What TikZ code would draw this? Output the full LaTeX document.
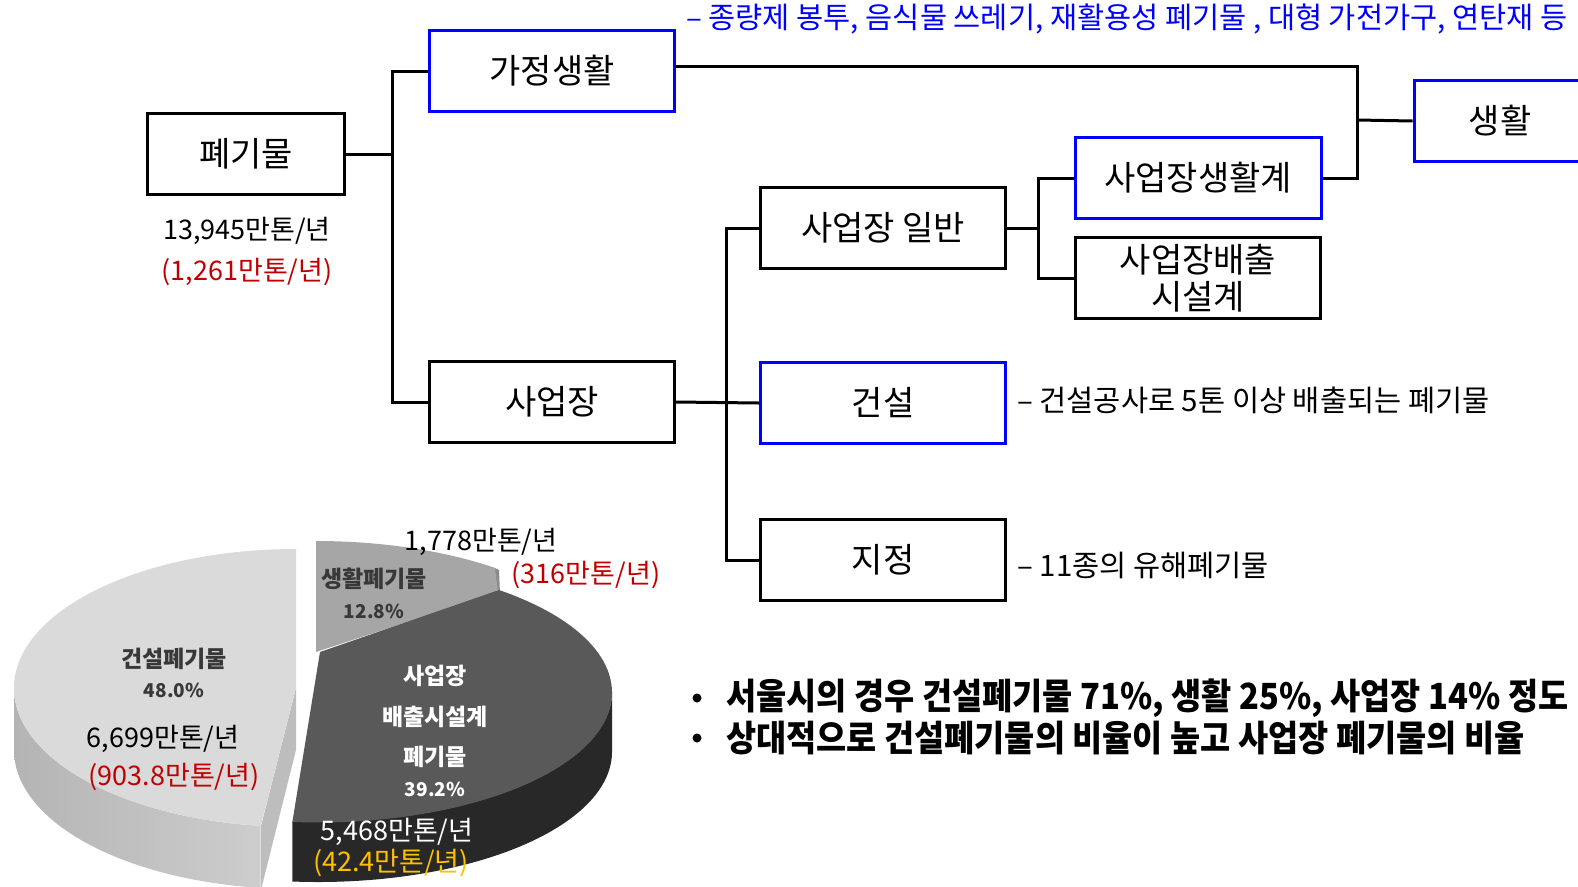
\documentclass[tikz,border=0pt]{standalone}
\usepackage{fontspec}
\setmainfont{Noto Sans CJK KR}
\newfontfamily\condfont[FakeStretch=0.91]{Noto Sans CJK KR}
\definecolor{pblue}{HTML}{0000FF}
\definecolor{pred}{HTML}{C00000}
\definecolor{porange}{HTML}{FFC000}
\definecolor{lighttop}{HTML}{DADADA}
\definecolor{lightwallA}{HTML}{B4B4B4}
\definecolor{lightwallB}{HTML}{CDCDCD}
\definecolor{lightcut}{HTML}{BDBDBD}
\definecolor{midtop}{HTML}{A6A6A6}
\definecolor{midcut}{HTML}{8A8A8A}
\definecolor{darktop}{HTML}{595959}
\definecolor{darkwall}{HTML}{282828}
\definecolor{labgray}{HTML}{383838}
\begin{document}
\begin{tikzpicture}[x=1pt,y=-1pt,
  box/.style={draw=black,line width=3pt,minimum width=245pt,minimum height=81pt,inner sep=0pt,font=\fontsize{34}{41}\selectfont,align=center},
  bluebox/.style={box,draw=pblue},
  conn/.style={line width=3pt},
  amount/.style={font=\fontsize{27}{30}\selectfont,inner sep=0pt},
  desc/.style={font=\fontsize{29.5}{32}\selectfont,inner sep=0pt,anchor=west},
  catlab/.style={font=\fontsize{23}{26}\selectfont\bfseries,inner sep=0pt},
  pctlab/.style={font=\fontsize{19}{22}\selectfont\bfseries,inner sep=0pt},
  bulletdot/.style={fill=black,circle,inner sep=0pt,minimum size=9pt},
  bullettext/.style={font=\fontsize{36}{40}\selectfont\condfont\bfseries,inner sep=0pt,anchor=west}]
\useasboundingbox (0,0) rectangle (1578,886);
\clip (0,0) rectangle (1578,886);

% ---------- tree ----------
\node[box,minimum width=197pt] (pk) at (246,154) {폐기물};
\node[bluebox] (ga) at (552,71) {가정생활};
\node[box] (sa) at (552,402) {사업장};
\node[box] (il) at (883,228) {사업장 일반};
\node[bluebox] (gs) at (883,403) {건설};
\node[box] (jj) at (883,560) {지정};
\node[bluebox,minimum width=246pt] (sg) at (1198,178) {사업장생활계};
\node[box] (bc) at (1198,278) {사업장배출\\[-4pt]시설계};
\node[bluebox,minimum width=220pt] (life) at (1524,121) {생활\hspace*{48pt}};

\coordinate (j1) at (392,154);
\coordinate (j2) at (726,402);
\coordinate (j4) at (1038,228);
\coordinate (j3) at (1357,120);

\draw[conn] (pk.east) -- (j1);
\draw[conn] (ga.west) -| (j1) |- (sa.west);
\draw[conn] (sa.east) -- (gs.west);
\draw[conn] (il.west) -| (j2) |- (jj.west);
\draw[conn] (il.east) -- (j4);
\draw[conn] (sg.west) -| (j4) |- (bc.west);
\draw[conn] ([yshift=5pt]ga.east) -| (j3) |- (sg.east);
\draw[conn] (j3) -- (life.west);

\node[amount] (tot) at (247,231) {13,945만톤/년};
\node[amount,text=pred] (totr) at (247,272) {(1,261만톤/년)};

\node[desc,text=pblue] (d1) at (686,19) {– 종량제 봉투, 음식물 쓰레기, 재활용성 폐기물 , 대형 가전가구, 연탄재 등};
\node[desc] (d2) at (1017,400) {– 건설공사로 5톤 이상 배출되는 폐기물};
\node[desc] (d3) at (1017,565) {– 11종의 유해폐기물};

% ---------- pie ----------
% light slice (construction)
\shade[left color=lightwallA,right color=lightwallB]
  (14,688) arc[start angle=-180,end angle=-262.8,x radius=282,y radius=139]
  -- ++(0,62) arc[start angle=-262.8,end angle=-180,x radius=282,y radius=139] -- cycle;
\fill[lightcut] (296,688) -- (261,826) -- (261,890) -- (296,750) -- cycle;
\fill[lighttop] (296,688) -- (296,549)
  arc[start angle=-90,end angle=-262.8,x radius=282,y radius=139] -- cycle;
% mid slice (household)
\fill[midcut] (495,568) -- (499,570) -- (500,594) -- (496,592) -- cycle;
\fill[midtop] (316,652) -- (316,541)
  arc[start angle=-90,end angle=-52.5,x radius=294,y radius=130] -- (498,592) -- cycle;
% dark slice (business facilities)
\fill[darkwall] (612,692) arc[start angle=0,end angle=95,x radius=294,y radius=130]
  -- ++(0,60) arc[start angle=95,end angle=0,x radius=294,y radius=130] -- cycle;
\fill[darktop] (320,652) -- (499,590)
  arc[start angle=-52,end angle=95,x radius=294,y radius=130] -- cycle;

\node[catlab,text=labgray] (c1) at (174,659) {건설폐기물};
\node[pctlab,text=labgray] (p1) at (174,690) {48.0\%};
\node[amount] (a1) at (163,739) {6,699만톤/년};
\node[amount,text=pred] (r1) at (174,777) {(903.8만톤/년)};

\node[amount] (a2) at (481,542) {1,778만톤/년};
\node[amount,text=pred] (r2) at (586,575) {(316만톤/년)};
\node[catlab,text=labgray] (c2) at (374,579) {생활폐기물};
\node[pctlab,text=labgray] (p2) at (374,611) {12.8\%};

\node[catlab,text=white] (c3a) at (435,676) {사업장};
\node[catlab,text=white] (c3b) at (435,717) {배출시설계};
\node[catlab,text=white] (c3c) at (435,757) {폐기물};
\node[pctlab,text=white] (p3) at (435,789) {39.2\%};
\node[amount,text=white] (a3) at (397,832) {5,468만톤/년};
\node[amount,text=porange] (r3) at (391,863) {(42.4만톤/년)};

% ---------- bullets ----------
\node[bulletdot] (b1) at (697,698) {};
\node[bulletdot] (b2) at (697,738) {};
\node[bullettext] (t1) at (726,698) {서울시의 경우 건설폐기물 71\%, 생활 25\%, 사업장 14\% 정도};
\node[bullettext] (t2) at (726,738) {상대적으로 건설폐기물의 비율이 높고 사업장 폐기물의 비율};
\end{tikzpicture}
\end{document}
